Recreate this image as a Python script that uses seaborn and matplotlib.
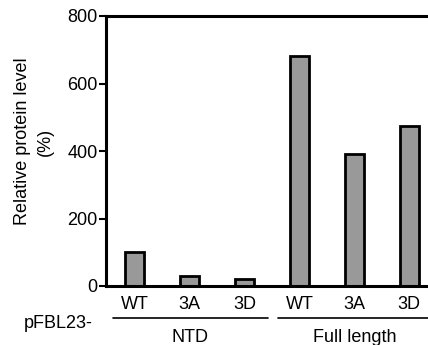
import numpy as np
import pandas as pd
import matplotlib
matplotlib.use('Agg')
import matplotlib.pyplot as plt
import matplotlib.transforms as mtransforms
import seaborn as sns

# values
groups = ['NTD', 'NTD', 'NTD', 'Full length', 'Full length', 'Full length']
variants = ['WT', '3A', '3D', 'WT', '3A', '3D']
levels = [100, 30, 22, 681, 390, 475]
yticks = [0, 200, 400, 600, 800]

df = pd.DataFrame({'group': groups, 'variant': variants, 'level': levels})
df['key'] = df['group'] + ' ' + df['variant']

sns.set_style('ticks', {'axes.edgecolor': 'black', 'text.color': 'black',
                        'xtick.color': 'black', 'ytick.color': 'black'})
plt.rcParams['font.family'] = ['Liberation Sans', 'DejaVu Sans']
fs = 13

fig = plt.figure(figsize=(4.28, 3.45), dpi=100)
ax = fig.add_axes([106 / 428, 59 / 345, 1 - 106 / 428, 270 / 345])

sns.barplot(data=df, x='key', y='level', color='#999999', width=0.35,
            edgecolor='black', linewidth=2.0, ax=ax, saturation=1)

ax.set_xlim(-0.52, 5.34)
ax.set_ylim(0, 800)
ax.set_yticks(yticks)
ax.set_yticklabels([str(t) for t in yticks], fontsize=fs)
ax.set_xticks(range(len(variants)))
ax.set_xticklabels(variants, fontsize=fs)
ax.tick_params(axis='x', length=0, pad=7.5)
ax.tick_params(axis='y', length=5, width=1.5, pad=1)
ax.set_xlabel('')
ax.set_ylabel('')

for side in ['left', 'bottom', 'top']:
    ax.spines[side].set_linewidth(2.2)
    ax.spines[side].set_visible(True)
ax.spines['right'].set_visible(False)

# group brackets under the tick labels
trans = mtransforms.blended_transform_factory(ax.transData, ax.transAxes)
for x0, x1, xc, name in [(-0.39, 2.43, 1.0, 'NTD'), (2.61, 5.4, 4.0, 'Full length')]:
    ax.plot([x0, x1], [-0.118, -0.118], color='black', lw=1.2,
            transform=trans, clip_on=False)
    ax.text(xc, -0.19, name, transform=trans, ha='center', va='center',
            fontsize=fs)

fig.text(58 / 428, 21 / 345, 'pFBL23-', ha='center', va='center', fontsize=fs)
fig.text(33.5 / 428, 0.59, 'Relative protein level\n(%)', rotation=90,
         ha='center', va='center', fontsize=fs, multialignment='center',
         linespacing=1.45)

fig.savefig('out.png', dpi=100)
